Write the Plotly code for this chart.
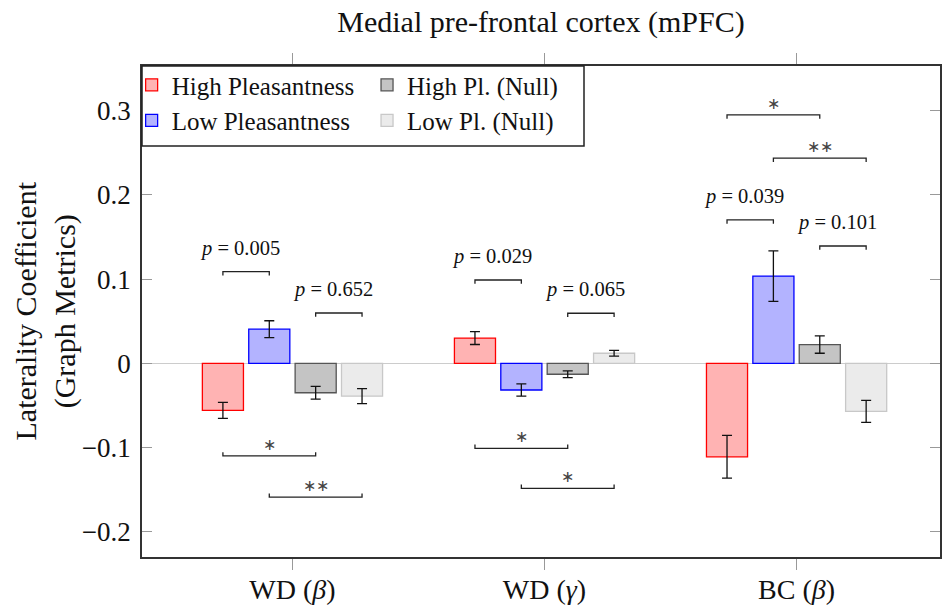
import plotly.graph_objects as go
import numpy as np

# ---------------- data ----------------
categories = ["WD (<i>β</i>)", "WD (<i>γ</i>)", "BC (<i>β</i>)"]
series_names = ["High Pleasantness", "Low Pleasantness", "High Pl. (Null)", "Low Pl. (Null)"]

high_pl = [-0.056, 0.030, -0.111]
high_pl_err = [0.0095, 0.0077, 0.0254]
low_pl = [0.0405, -0.0317, 0.1036]
low_pl_err = [0.010, 0.0073, 0.030]
high_null = [-0.035, -0.013, 0.0222]
high_null_err = [0.0075, 0.004, 0.0103]
low_null = [-0.039, 0.0119, -0.0571]
low_null_err = [0.009, 0.0034, 0.013]

# significance brackets: category index, series a, series b, level, label
br_cat = [0, 0, 0, 0, 1, 1, 1, 1, 2, 2, 2, 2]
br_a = [0, 2, 0, 1, 0, 2, 0, 1, 0, 1, 0, 2]
br_b = [1, 3, 2, 3, 1, 3, 2, 3, 2, 3, 1, 3]
br_y = [0.1088, 0.0597, -0.110, -0.159,
        0.0989, 0.0594, -0.101, -0.1485,
        0.2949, 0.2435, 0.1702, 0.1393]
br_label = ["<i>p</i> = 0.005", "<i>p</i> = 0.652", "∗", "∗∗",
            "<i>p</i> = 0.029", "<i>p</i> = 0.065", "∗", "∗",
            "∗", "∗∗", "<i>p</i> = 0.039", "<i>p</i> = 0.101"]

y_tickvals = [-0.2, -0.1, 0, 0.1, 0.2, 0.3]
y_ticktext = ["−0.2", "−0.1", "0", "0.1", "0.2", "0.3"]

# ---------------- style ----------------
FONT = "Liberation Serif"
fills = ["#ffb3b3", "#b3b3ff", "#c4c4c4", "#ebebeb"]
edges = ["#ff0000", "#0000ff", "#555555", "#c8c8c8"]
legend_ids = ["legend", "legend", "legend2", "legend2"]
step = 0.184
bar_w = 0.163
offsets = [(j - 1.5) * step for j in range(4)]

values = [high_pl, low_pl, high_null, low_null]
errors = [high_pl_err, low_pl_err, high_null_err, low_null_err]
xc = np.arange(len(categories))

fig = go.Figure()
for j in range(4):
    fig.add_trace(go.Bar(
        x=xc + offsets[j], y=values[j], width=bar_w, name=series_names[j],
        marker=dict(color=fills[j], line=dict(color=edges[j], width=1.3)),
        error_y=dict(type="data", array=errors[j], color="#111111", thickness=1.3, width=5),
        legend=legend_ids[j], hoverinfo="skip",
    ))

tick_d = 0.0045
annotations = []
for c, a, b, yv, lab in zip(br_cat, br_a, br_b, br_y, br_label):
    x1 = c + offsets[a]
    x2 = c + offsets[b]
    d = -tick_d if yv > 0 else tick_d
    fig.add_trace(go.Scatter(
        x=[x1, x1, x2, x2], y=[yv + d, yv, yv, yv + d], mode="lines",
        line=dict(color="#222222", width=1.3), showlegend=False, hoverinfo="skip",
    ))
    is_star = "∗" in lab
    annotations.append(dict(
        x=(x1 + x2) / 2, y=yv, xref="x", yref="y", text=lab, showarrow=False,
        yanchor="bottom", yshift=1 if is_star else 10, xshift=0 if is_star else -6,
        font=dict(family=FONT, size=16 if is_star else 20.5,
                  color="#444444" if is_star else "#111111"),
    ))

# y-axis title as a rotated annotation
annotations.append(dict(
    text="Laterality Coefficient<br>(Graph Metrics)", textangle=-90,
    xref="paper", yref="paper", x=(45 - 142) / 798, y=0.5,
    xanchor="center", yanchor="middle", showarrow=False,
    font=dict(family=FONT, size=30, color="#111111"),
))

fig.update_layout(
    width=942, height=607,
    margin=dict(l=142, r=2, t=66, b=50, autoexpand=False),
    paper_bgcolor="white", plot_bgcolor="white",
    barmode="overlay",
    font=dict(family=FONT, color="#111111"),
    title=dict(text="Medial pre-frontal cortex (mPFC)", x=0.5, xref="paper", xanchor="center",
               y=1 - 21 / 607, yanchor="middle", font=dict(family=FONT, size=30, color="#111111")),
    annotations=annotations,
    legend=dict(x=-0.013, y=1.008, xanchor="left", yanchor="top", bgcolor="rgba(0,0,0,0)",
                font=dict(family=FONT, size=25, color="#111111"), tracegroupgap=0),
    legend2=dict(x=0.282, y=1.008, xanchor="left", yanchor="top", bgcolor="rgba(0,0,0,0)",
                 font=dict(family=FONT, size=25, color="#111111"), tracegroupgap=0),
    shapes=[dict(type="rect", xref="paper", yref="paper", x0=0, x1=(584 - 142) / 798,
                 y0=(557 - 146) / 491, y1=1, fillcolor="white",
                 line=dict(color="#222222", width=1.5), layer="above")],
)

fig.update_xaxes(
    range=[-0.597, 2.569], tickvals=list(xc), ticktext=categories, automargin=False,
    showline=True, linecolor="#333333", linewidth=1.5, mirror="ticks",
    ticks="outside", ticklen=11, tickcolor="#999999", tickwidth=1,
    showgrid=False, zeroline=False, ticklabelstandoff=-4,
    tickfont=dict(family=FONT, size=28, color="#111111"),
)
fig.update_yaxes(
    range=[-0.230, 0.353], tickvals=y_tickvals, ticktext=y_ticktext, automargin=False,
    showline=True, linecolor="#333333", linewidth=1.5, mirror="ticks",
    ticks="inside", ticklen=10, tickcolor="#999999", tickwidth=1,
    showgrid=False, zeroline=True, zerolinecolor="#cccccc", zerolinewidth=1,
    tickfont=dict(family=FONT, size=27, color="#111111"), ticklabelstandoff=4,
)

fig.write_html("out.html", config={"displayModeBar": False},
               post_script="document.body.style.margin='0px';")
